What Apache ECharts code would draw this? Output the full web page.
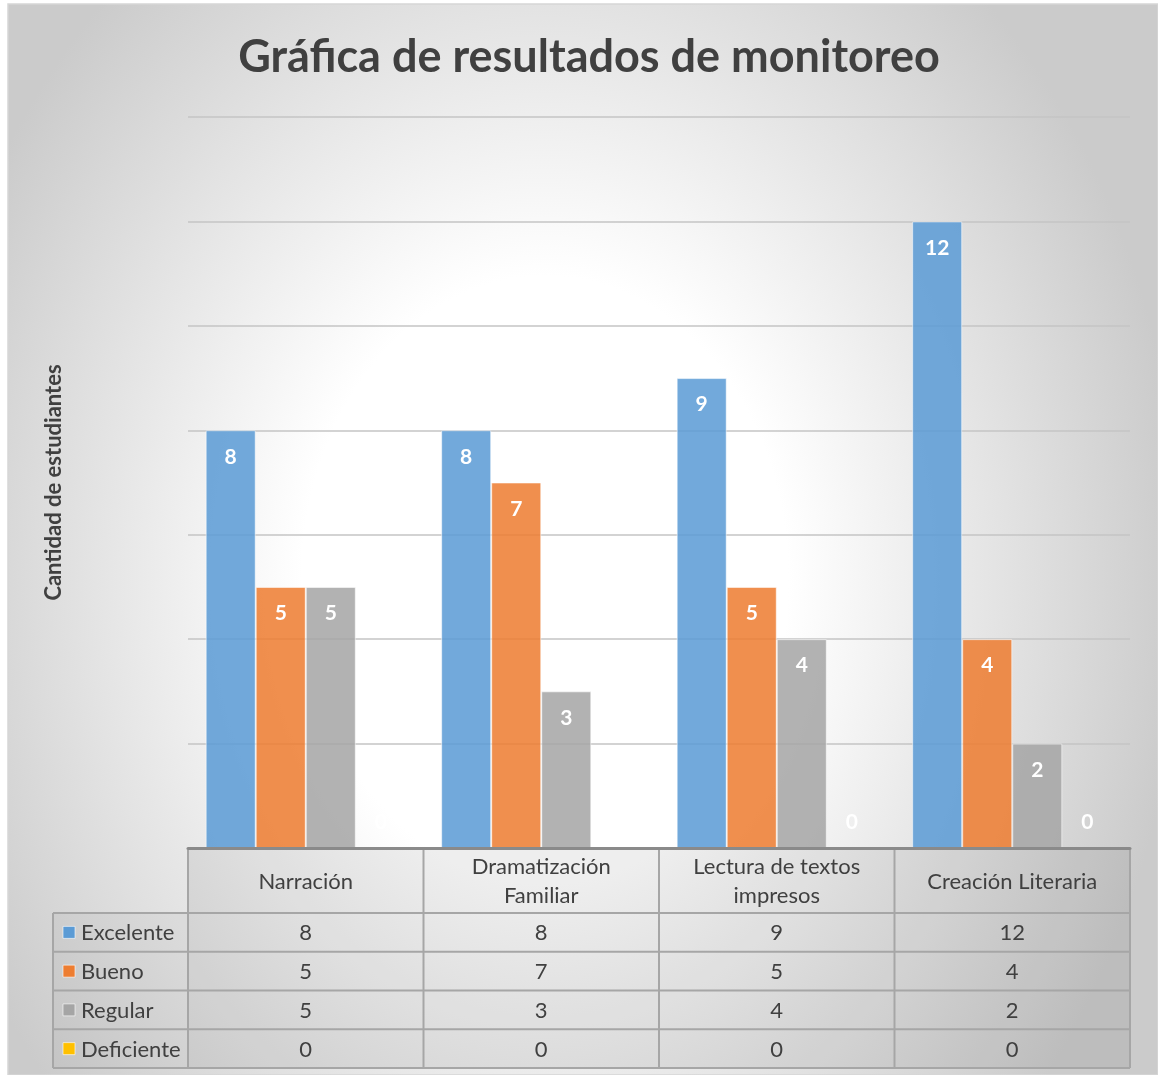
<!DOCTYPE html>
<html>
<head>
<meta charset="utf-8">
<style>
  html, body { margin: 0; padding: 0; background: #ffffff; }
  #chart { width: 1158px; height: 1075px; }
</style>
<script src="https://cdn.jsdelivr.net/npm/echarts@6/dist/echarts.min.js"></script>
</head>
<body>
<div id="chart"></div>
<script>
const titleText = "Gráfica de resultados de monitoreo";
const yAxisName = "Cantidad de estudiantes";
const categories = ["Narración", "Dramatización\nFamiliar", "Lectura de textos\nimpresos", "Creación Literaria"];
const seriesNames = ["Excelente", "Bueno", "Regular", "Deficiente"];
const excelente = [8, 8, 9, 12];
const bueno = [5, 7, 5, 4];
const regular = [5, 3, 4, 2];
const deficiente = [0, 0, 0, 0];
const yMin = 0, yMax = 14, yStep = 2;

const seriesValues = [excelente, bueno, regular, deficiente];
const colors = ["rgba(91,155,213,0.86)", "rgba(237,125,49,0.86)", "rgba(165,165,165,0.86)", "rgba(255,192,0,0.86)"];
const keyColors = ["#5B9BD5", "#ED7D31", "#A5A5A5", "#FFC000"];

const W = 1158, H = 1075;
const gridL = 188, gridR = 1130, gridT = 117, gridB = 848;
const fontFam = "Lato, 'Open Sans', sans-serif";
const textCol = "#404040";

const chart = echarts.init(document.getElementById('chart'), null, { renderer: 'canvas', width: W, height: H });

const series = seriesNames.map((name, si) => ({
  name: name,
  type: 'bar',
  barGap: '0%',
  barCategoryGap: '15%',
  z: 3,
  itemStyle: { color: colors[si], borderColor: 'rgba(255,255,255,0.55)', borderWidth: 1 },
  data: seriesValues[si].map(v => ({
    value: v,
    label: v === 0
      ? { show: true, position: 'top', distance: 15 }
      : { show: true, position: 'insideTop', distance: 16 }
  })),
  label: {
    show: true,
    color: '#ffffff',
    fontFamily: fontFam,
    fontWeight: 'bold',
    fontSize: 21
  }
}));

const graphics = [];
// background frame (elliptical radial gradient via vertical scale)
const sy = 1.25;
graphics.push({
  type: 'rect', z: -10, silent: true,
  x: 0, y: 4, scaleY: sy,
  shape: { x: 8, y: 0, width: W - 8, height: (H - 4) / sy },
  style: {
    fill: {
      type: 'radial', global: true, x: 545, y: (580 - 4) / sy, r: 640,
      colorStops: [
        { offset: 0, color: '#ffffff' },
        { offset: 0.38, color: '#ffffff' },
        { offset: 1, color: '#cbcbcb' }
      ]
    }
  }
});
graphics.push({
  type: 'rect', z: -9, silent: true,
  shape: { x: 8, y: 4, width: W - 8, height: H - 4 },
  style: { fill: 'none', stroke: '#d6d6d6', lineWidth: 1.5 }
});

const colW = (gridR - gridL) / categories.length;
const legL = 53;
const headTop = 850, headBot = 913;
const rowH = (1068 - headBot) / seriesNames.length;
const lineCol = '#a6a6a6';
const lw = 2;
const tableBot = headBot + rowH * seriesNames.length;

// table shading
graphics.push({ type: 'rect', z: 1, silent: true, shape: { x: gridL, y: headTop, width: gridR - gridL, height: tableBot - headTop }, style: { fill: 'rgba(0,0,0,0.065)' } });
graphics.push({ type: 'rect', z: 1, silent: true, shape: { x: legL, y: headBot, width: gridL - legL, height: tableBot - headBot }, style: { fill: 'rgba(0,0,0,0.035)' } });

function hline(x1, x2, y) {
  graphics.push({ type: 'line', z: 5, silent: true, shape: { x1: x1, y1: y, x2: x2, y2: y }, style: { stroke: lineCol, lineWidth: lw } });
}
function vline(x, y1, y2) {
  graphics.push({ type: 'line', z: 5, silent: true, shape: { x1: x, y1: y1, x2: x, y2: y2 }, style: { stroke: lineCol, lineWidth: lw } });
}
for (let r = 0; r <= seriesNames.length; r++) hline(legL, gridR, headBot + r * rowH);
for (let c = 0; c <= categories.length; c++) vline(gridL + c * colW, headTop, tableBot);
vline(legL, headBot, tableBot);

categories.forEach((cat, ci) => {
  graphics.push({
    type: 'text', z: 6, silent: true,
    x: gridL + (ci + 0.5) * colW, y: (headTop + headBot) / 2,
    style: { text: cat, fill: textCol, font: '22px ' + fontFam, align: 'center', verticalAlign: 'middle', lineHeight: 29 }
  });
});
seriesNames.forEach((name, si) => {
  const cy = headBot + (si + 0.5) * rowH;
  graphics.push({
    type: 'rect', z: 6, silent: true,
    shape: { x: 63, y: cy - 6, width: 12, height: 12 },
    style: { fill: keyColors[si], stroke: 'rgba(255,255,255,0.6)', lineWidth: 1 }
  });
  graphics.push({
    type: 'text', z: 6, silent: true, x: 81, y: cy + 1,
    style: { text: name, fill: textCol, font: '22px ' + fontFam, align: 'left', verticalAlign: 'middle' }
  });
  seriesValues[si].forEach((v, ci) => {
    graphics.push({
      type: 'text', z: 6, silent: true, x: gridL + (ci + 0.5) * colW, y: cy + 1,
      style: { text: String(v), fill: textCol, font: '22px ' + fontFam, align: 'center', verticalAlign: 'middle' }
    });
  });
});

chart.setOption({
  backgroundColor: '#ffffff',
  animation: false,
  title: {
    text: titleText,
    left: 584, top: 30, textAlign: 'center',
    textStyle: { fontFamily: fontFam, fontWeight: 'bold', fontSize: 45, color: textCol }
  },
  grid: { left: gridL, right: W - gridR, top: gridT, bottom: H - gridB, containLabel: false },
  xAxis: {
    type: 'category',
    data: categories,
    axisLine: { show: true, lineStyle: { color: '#8a8a8a', width: 3 } },
    axisTick: { show: false },
    axisLabel: { show: false },
    z: 4
  },
  yAxis: {
    type: 'value',
    min: yMin, max: yMax, interval: yStep,
    name: yAxisName,
    nameLocation: 'middle',
    nameGap: 123,
    nameTextStyle: { fontFamily: fontFam, fontWeight: 'bold', fontSize: 22, color: textCol },
    axisLine: { show: false },
    axisTick: { show: false },
    axisLabel: { show: false },
    splitLine: { show: true, lineStyle: { color: '#c4c4c4', width: 1.5 } }
  },
  graphic: graphics,
  series: series
});
</script>
</body>
</html>
